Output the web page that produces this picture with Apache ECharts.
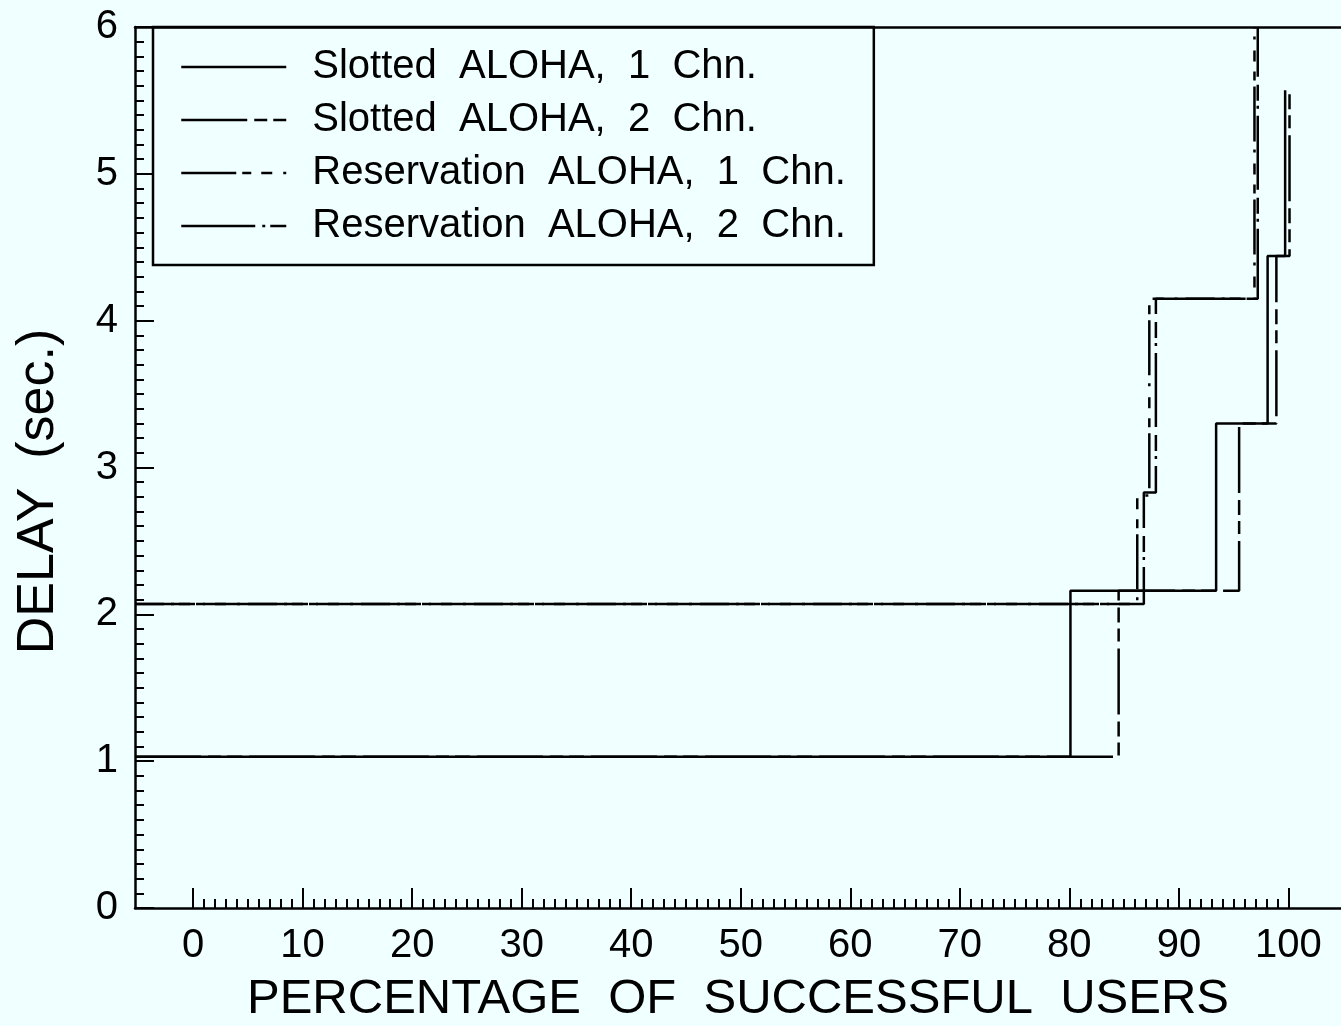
<!DOCTYPE html>
<html>
<head>
<meta charset="utf-8">
<script src="https://cdn.jsdelivr.net/npm/echarts@6/dist/echarts.min.js"></script>
<style>
  html, body { margin: 0; padding: 0; background: #f0ffff; }
  #chart { width: 1341px; height: 1026px; }
</style>
</head>
<body>
<div id="chart"></div>
<script>
// Delay vs. percentage of successful users, four access schemes (step curves)
const seriesNames = [
  'Slotted  ALOHA,  1  Chn.',
  'Slotted  ALOHA,  2  Chn.',
  'Reservation  ALOHA,  1  Chn.',
  'Reservation  ALOHA,  2  Chn.'
];

// x where every curve begins (left edge of the axis)
const startX = -5.3;

// Each curve: x positions of its jumps, and the delay level held before/after each jump
const slotted1Steps  = [80.1, 93.4, 98.1, 99.7];
const slotted1Levels = [1.03, 2.16, 3.30, 4.44, 5.57];

const slotted2Steps  = [84.5, 95.5, 98.9, 100.1];
const slotted2Levels = [1.03, 2.16, 3.30, 4.44, 5.57];

const reserv1Steps  = [86.2, 87.3, 96.9];
const reserv1Levels = [2.07, 2.81, 4.15, 6.0];

const reserv2Steps  = [86.8, 87.9, 97.2];
const reserv2Levels = [2.07, 2.83, 4.15, 6.0];

// axis ticks
const xMajorTicks = [0, 10, 20, 30, 40, 50, 60, 70, 80, 90, 100];
const yTickLabels = ['0', '1', '2', '3', '4', '5', '6'];

const xMinorTicks = [];
for (let v = 0; v <= 100; v++) xMinorTicks.push(v);

function stepPath(steps, levels) {
  const pts = [[startX, levels[0]]];
  steps.forEach((x, i) => {
    pts.push([x, levels[i]]);
    pts.push([x, levels[i + 1]]);
  });
  return pts;
}

const ink = '#000';
const font = 'Liberation Sans';
const xMin = -5.3, xMax = 104.8;

// solid, long dash + two dashes, long dash + dashes + dot, long dash + dot + dash
const dashStyles = [
  'solid',
  [66, 7, 13, 6, 15, 7],
  [55, 6, 9, 10, 11, 11, 3, 8],
  [74, 7, 3, 5, 16, 8]
];
const dashOffsets = [0, 0, 0, 45];
const curves = [
  stepPath(slotted1Steps, slotted1Levels),
  stepPath(slotted2Steps, slotted2Levels),
  stepPath(reserv1Steps, reserv1Levels),
  stepPath(reserv2Steps, reserv2Levels)
];

const chart = echarts.init(document.getElementById('chart'), null, { renderer: 'canvas' });

chart.setOption({
  animation: false,
  backgroundColor: '#f0ffff',
  textStyle: { fontFamily: font, color: ink },
  grid: { left: 135, right: 0, top: 27, bottom: 118, containLabel: false, outerBoundsMode: 'none' },
  legend: {
    orient: 'vertical',
    left: 153,
    top: 27,
    padding: [20, 28, 19, 27],
    itemWidth: 105,
    itemHeight: 40,
    itemGap: 13,
    borderColor: ink,
    borderWidth: 2.5,
    selectedMode: false,
    itemStyle: { opacity: 0 },
    lineStyle: { width: 2.5, dashOffset: 0 },
    textStyle: { fontSize: 40, fontFamily: font, color: ink, padding: [0, 0, 0, 21] },
    data: seriesNames
  },
  xAxis: [
    {
      type: 'value', min: xMin, max: xMax, position: 'bottom', offset: 0,
      axisLine: { show: true, onZero: false, lineStyle: { color: ink, width: 2.5 } },
      axisTick: { show: true, inside: true, length: 20, customValues: xMajorTicks, lineStyle: { color: ink, width: 2 } },
      axisLabel: { customValues: xMajorTicks, fontSize: 40, fontFamily: font, color: ink, margin: 18 },
      splitLine: { show: false },
      name: 'PERCENTAGE  OF  SUCCESSFUL  USERS',
      nameLocation: 'middle',
      nameGap: 67,
      nameTextStyle: { fontSize: 49, fontFamily: font, color: ink }
    },
    {
      type: 'value', min: xMin, max: xMax, position: 'bottom', offset: 0,
      axisLine: { show: false },
      axisTick: { show: true, inside: true, length: 9, customValues: xMinorTicks, lineStyle: { color: ink, width: 2 } },
      axisLabel: { show: false },
      splitLine: { show: false }
    },
    {
      type: 'value', min: xMin, max: xMax, position: 'top', offset: 0,
      axisLine: { show: true, onZero: false, lineStyle: { color: ink, width: 2.5 } },
      axisTick: { show: false },
      axisLabel: { show: false },
      splitLine: { show: false }
    }
  ],
  yAxis: {
    type: 'value', min: 0, max: 6, interval: 1,
    axisLine: { show: true, onZero: false, lineStyle: { color: ink, width: 2.5 } },
    axisTick: { show: true, inside: true, length: 19, lineStyle: { color: ink, width: 2 } },
    minorTick: { show: true, splitNumber: 10, length: 9, lineStyle: { color: ink, width: 2 } },
    splitLine: { show: false },
    axisLabel: {
      fontSize: 40, fontFamily: font, color: ink, margin: 17,
      formatter: (v) => yTickLabels[Math.round(v)]
    },
    name: 'DELAY  (sec.)',
    nameLocation: 'middle',
    nameGap: 70,
    nameRotate: 90,
    nameTextStyle: { fontSize: 52, fontFamily: font, color: ink, padding: [0, 48, 0, 0] }
  },
  series: seriesNames.map((name, i) => ({
    name: name,
    type: 'line',
    xAxisIndex: 0,
    yAxisIndex: 0,
    data: curves[i],
    symbol: 'none',
    clip: true,
    lineStyle: { color: ink, width: 2.5, type: dashStyles[i], dashOffset: dashOffsets[i] },
    itemStyle: { color: ink }
  }))
});
</script>
</body>
</html>
